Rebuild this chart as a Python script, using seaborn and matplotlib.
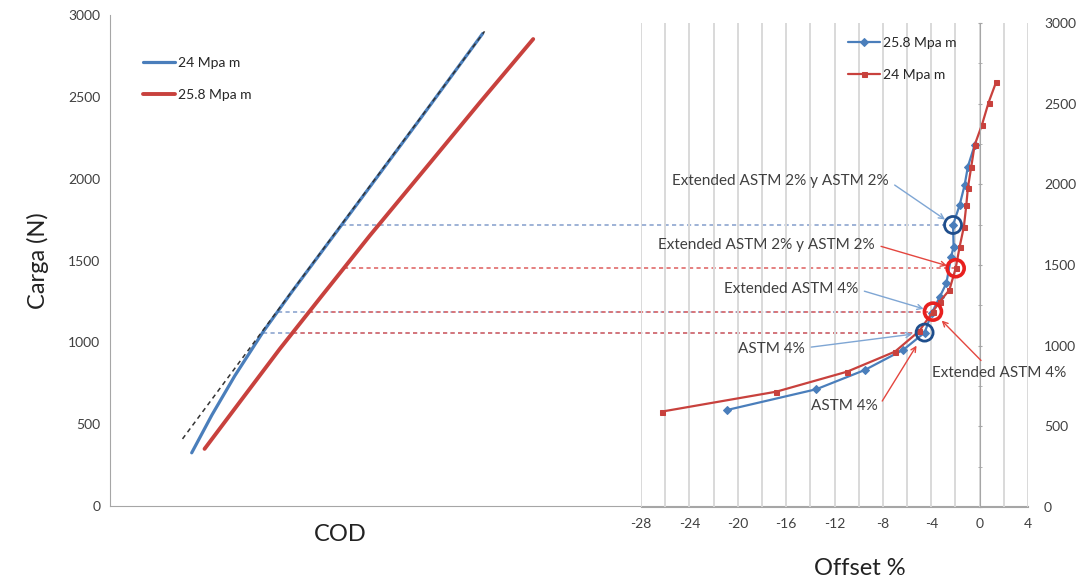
import numpy as np
import matplotlib
matplotlib.use("Agg")
import matplotlib.pyplot as plt
from matplotlib.ticker import MultipleLocator
import seaborn as sns

sns.set_style("white")
plt.rcParams['font.family'] = ['Lato', 'DejaVu Sans']
plt.rcParams['axes.unicode_minus'] = False

# curvas carga - COD (COD en unidades arbitrarias)
cod_24 = [0.89, 1.11, 1.36, 1.67, 1.97, 2.72, 3.36, 4.06]
load_24 = [325, 556, 796, 1066, 1300, 1866, 2351, 2887]
cod_258 = [1.03, 1.42, 1.85, 2.29, 2.83, 3.49, 4.03, 4.61]
load_258 = [349, 640, 960, 1272, 1652, 2099, 2466, 2853]
fit_cod = [0.79, 4.08]
fit_load = [410, 2900]

# curvas carga - offset %
off_258 = [-20.9, -13.5, -9.5, -6.3, -4.55, -3.95, -3.3, -2.75, -2.35, -2.15, -2.2,
           -1.65, -1.24, -0.97, -0.41]
offload_258 = [601, 730, 849, 975, 1081, 1203, 1302, 1387, 1552, 1614, 1748,
               1872, 1996, 2110, 2244]
off_24 = [-26.3, -16.8, -10.95, -7.0, -5.0, -3.86, -3.3, -2.5, -1.98, -1.65, -1.3,
          -1.1, -0.97, -0.69, -0.41, 0.19, 0.74, 1.38]
offload_24 = [591, 715, 839, 963, 1090, 1211, 1273, 1345, 1480, 1614, 1738,
              1872, 1978, 2110, 2244, 2368, 2507, 2637]

# puntos marcados (circulos)
hl_blue_off = [-2.2, -4.55]
hl_blue_load = [1748, 1081]
hl_red_off = [-1.98, -3.86]
hl_red_load = [1480, 1211]

BLUE = "#4a7ebb"
RED = "#c8413d"
BLUE_ARR = "#7fa6d4"
RED_ARR = "#e4463f"
GREY = "#a6a6a6"
TXT = "#404040"

fig = plt.figure(figsize=(10.83, 5.82), dpi=100)
ax1 = fig.add_axes([110 / 1083, 76 / 582, 918 / 1083, 491 / 582])
ax2 = fig.add_axes([641 / 1083, 75 / 582, 387 / 1083, 484 / 582])
ax2.patch.set_visible(False)

# ---------- COD ----------
sns.lineplot(x=cod_24, y=load_24, ax=ax1, color=BLUE, lw=2.3, sort=False,
             estimator=None, label="24 Mpa m")
sns.lineplot(x=cod_258, y=load_258, ax=ax1, color=RED, lw=2.8, sort=False,
             estimator=None, label="25.8 Mpa m")
ax1.plot(fit_cod, fit_load, color="#333333", lw=1.1, ls=(0, (3, 2.5)), zorder=5)
ax1.set_xlim(0, 10)
ax1.set_ylim(0, 3000)
ax1.set_xticks([])
ax1.yaxis.set_major_locator(MultipleLocator(500))
ax1.tick_params(axis='y', length=3, width=1, color=GREY, labelsize=10,
                labelcolor=TXT, pad=4)
for s in ['top', 'right']:
    ax1.spines[s].set_visible(False)
for s in ['left', 'bottom']:
    ax1.spines[s].set_color(GREY)
ax1.set_xlabel("COD", fontsize=17, color="#222222")
ax1.xaxis.set_label_coords((340 - 110) / 918, -0.037)
ax1.set_ylabel("Carga (N)", fontsize=17, color="#222222")
ax1.yaxis.set_label_coords(-0.066, 0.5)
h, l = ax1.get_legend_handles_labels()
ax1.legend(h, l, loc='upper left', bbox_to_anchor=(143 / 1083, 1 - 57 / 582),
           bbox_transform=fig.transFigure, frameon=False, fontsize=10,
           handlelength=2.3, handletextpad=0.2, labelspacing=1.45,
           borderpad=0, borderaxespad=0)

# ---------- Offset ----------
sns.lineplot(x=off_258, y=offload_258, ax=ax2, color=BLUE, lw=1.6, marker='D',
             markersize=4, markeredgecolor=BLUE, sort=False, estimator=None,
             label="25.8 Mpa m")
sns.lineplot(x=off_24, y=offload_24, ax=ax2, color=RED, lw=1.6, marker='s',
             markersize=3.6, markeredgecolor=RED, sort=False, estimator=None,
             label="24 Mpa m")
ax2.scatter(hl_blue_off, hl_blue_load, s=150, facecolors='none',
            edgecolors="#1f4e8c", linewidths=2.0, zorder=6)
ax2.scatter(hl_red_off, hl_red_load, s=150, facecolors='none',
            edgecolors="#e8201f", linewidths=2.6, zorder=6)
ax2.set_xlim(-28, 4)
ax2.set_ylim(0, 3000)
ax2.xaxis.set_major_locator(MultipleLocator(4))
ax2.xaxis.set_minor_locator(MultipleLocator(2))
ax2.yaxis.set_major_locator(MultipleLocator(500))
ax2.yaxis.set_minor_locator(MultipleLocator(250))
ax2.grid(which='both', axis='x', color="#d9d9d9", lw=1.4)
ax2.set_axisbelow(True)
ax2.spines['left'].set_position(('data', 0))
ax2.spines['left'].set_color(GREY)
ax2.spines['bottom'].set_color(GREY)
for s in ['top', 'right']:
    ax2.spines[s].set_visible(False)
ax2.tick_params(axis='x', which='major', length=3, color=GREY, labelsize=10,
                labelcolor=TXT, pad=5)
ax2.tick_params(axis='x', which='minor', length=0)
ax2.tick_params(axis='y', which='both', left=True, right=False, labelleft=False,
                labelright=True, length=3, direction='inout', color=GREY,
                labelsize=10, labelcolor=TXT, pad=10)
ax2.set_xlabel("Offset %", fontsize=17, color="#222222")
ax2.xaxis.set_label_coords(0.566, -0.105)
ax2.set_ylabel("")
h, l = ax2.get_legend_handles_labels()
ax2.legend(h, l, loc='upper left', bbox_to_anchor=(848 / 1083, 1 - 37 / 582),
           bbox_transform=fig.transFigure, frameon=False, fontsize=10,
           handlelength=2.3, handletextpad=0.2, labelspacing=1.45,
           borderpad=0, borderaxespad=0)

# ---------- lineas horizontales de referencia ----------
to_ax1 = ax1.transData.inverted()


def guide(off, load, cod_curve, load_curve, color):
    x_end, y = to_ax1.transform(ax2.transData.transform((off, load)))
    x_start = np.interp(y, load_curve, cod_curve)
    ax1.plot([x_start, x_end], [y, y], color=color, lw=1.2, ls=(0, (2.5, 2)),
             zorder=1)


blue_levels = [(hl_blue_off[0], hl_blue_load[0]), (hl_red_off[1], hl_red_load[1]),
               (hl_blue_off[1], hl_blue_load[1])]
red_levels = [(hl_red_off[0], hl_red_load[0]), (hl_red_off[1], hl_red_load[1]),
              (hl_blue_off[1], hl_blue_load[1])]
for o, ld in blue_levels:
    guide(o, ld, cod_24, load_24, "#8ea6cf")
for o, ld in red_levels:
    guide(o, ld, cod_258, load_258, "#e06b6b")

# ---------- anotaciones ----------
notes = [
    ("Extended ASTM 2% y ASTM 2%", (hl_blue_off[0], hl_blue_load[0]), (-124, 32), (1, 0.45), BLUE_ARR, 7),
    ("Extended ASTM 2% y ASTM 2%", (hl_red_off[0], hl_red_load[0]), (-136, 17), (1, 0.5), RED_ARR, 6.5),
    ("Extended ASTM 4%", (hl_red_off[1], hl_red_load[1]), (-102, 16), (1, 0.5), BLUE_ARR, 7),
    ("ASTM 4%", (hl_blue_off[1], hl_blue_load[1]), (-110, -12), (1, 0.6), BLUE_ARR, 9),
    ("Extended ASTM 4%", (hl_red_off[1], hl_red_load[1]), (48, -44), (0.4, 1), RED_ARR, 9),
    ("ASTM 4%", (hl_blue_off[1], hl_blue_load[1]), (-58, -53), (1.05, 0.7), RED_ARR, 11),
]
for txt, pt, offs, rel, col, shr in notes:
    ax2.annotate(txt, xy=pt, xytext=offs, textcoords='offset points',
                 ha='center', va='center', fontsize=11, color=TXT, zorder=7,
                 arrowprops=dict(arrowstyle='->', color=col, lw=1.0,
                                 relpos=rel, shrinkA=2, shrinkB=shr,
                                 mutation_scale=9))

fig.savefig("out.png", dpi=100)
